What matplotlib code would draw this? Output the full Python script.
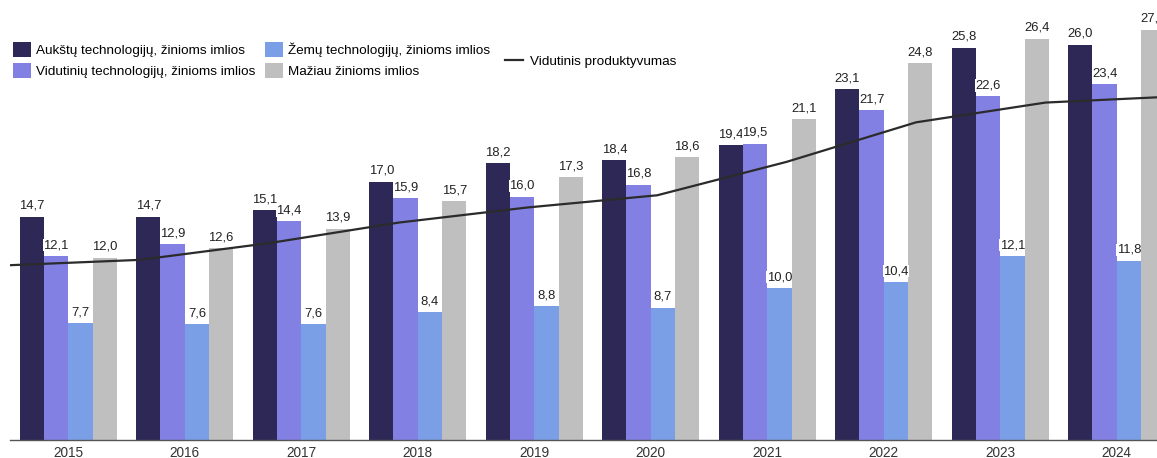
import numpy as np
import matplotlib
matplotlib.use("Agg")
import matplotlib.pyplot as plt

plt.rcParams["font.family"] = ["Liberation Sans", "DejaVu Sans"]

years = ["2015", "2016", "2017", "2018", "2019", "2020", "2021", "2022", "2023", "2024"]
aukstu = [14.7, 14.7, 15.1, 17.0, 18.2, 18.4, 19.4, 23.1, 25.8, 26.0]
vidutiniu = [12.1, 12.9, 14.4, 15.9, 16.0, 16.8, 19.5, 21.7, 22.6, 23.4]
zemu = [7.7, 7.6, 7.6, 8.4, 8.8, 8.7, 10.0, 10.4, 12.1, 11.8]
maziau = [12.0, 12.6, 13.9, 15.7, 17.3, 18.6, 21.1, 24.8, 26.4, 27.0]
produktyvumas = [11.5, 11.85, 12.95, 14.3, 15.3, 16.1, 18.3, 20.9, 22.2, 22.6]

series = [
    ("Aukštų technologijų, žinioms imlios", aukstu, "#2e2856"),
    ("Vidutinių technologijų, žinioms imlios", vidutiniu, "#8280e2"),
    ("Žemų technologijų, žinioms imlios", zemu, "#7b9fe6"),
    ("Mažiau žinioms imlios", maziau, "#bfbfbf"),
]

fig = plt.figure(figsize=(11.57, 4.58), dpi=100)
ax = fig.add_axes([10 / 1157, 18 / 458, 1165 / 1157, 440 / 458])

x = np.arange(len(years))
w = 0.2086
handles = []
for k, (name, vals, col) in enumerate(series):
    pos = x + (k - 1.5) * w
    b = ax.bar(pos, vals, width=w, color=col, label=name, zorder=2)
    handles.append(b)
    for xi, v in zip(pos, vals):
        ax.annotate(f"{v:.1f}".replace(".", ","), (xi, v), xytext=(0, 3.5),
                    textcoords="offset points", ha="center", va="bottom",
                    fontsize=9.4, color="#222222", zorder=4,
                    bbox=dict(facecolor="white", edgecolor="none", pad=0.15))

# line spans the full category axis, points evenly spread edge to edge
lx = np.linspace(-0.5, len(years) - 0.5, len(produktyvumas))
ln, = ax.plot(lx, produktyvumas, color="#2b2b2b", lw=1.6, zorder=3,
              label="Vidutinis produktyvumas")

ax.set_xlim(-0.5, len(years) - 0.5)
ax.set_ylim(0, 440 / 15.2)
ax.set_xticks(x)
ax.set_xticklabels(years, fontsize=9.8, color="#333333")
ax.tick_params(axis="x", length=0, pad=4.5)
ax.set_yticks([])
for s in ["top", "right", "left"]:
    ax.spines[s].set_visible(False)
ax.spines["bottom"].set_color("#555555")
ax.spines["bottom"].set_linewidth(1)

leg1 = fig.legend(handles=handles, ncol=2, loc="upper left",
                  bbox_to_anchor=(8 / 1157, 1 - 37 / 458), frameon=False,
                  fontsize=9.7, handlelength=1.3, handleheight=1.3,
                  handletextpad=0.4, columnspacing=0.7, labelspacing=0.45,
                  borderaxespad=0)
leg2 = fig.legend(handles=[ln], loc="center left",
                  bbox_to_anchor=(500 / 1157, 1 - 62 / 458), frameon=False,
                  fontsize=9.7, handlelength=1.3, handletextpad=0.5,
                  borderaxespad=0)

fig.savefig("out.png", dpi=100)
